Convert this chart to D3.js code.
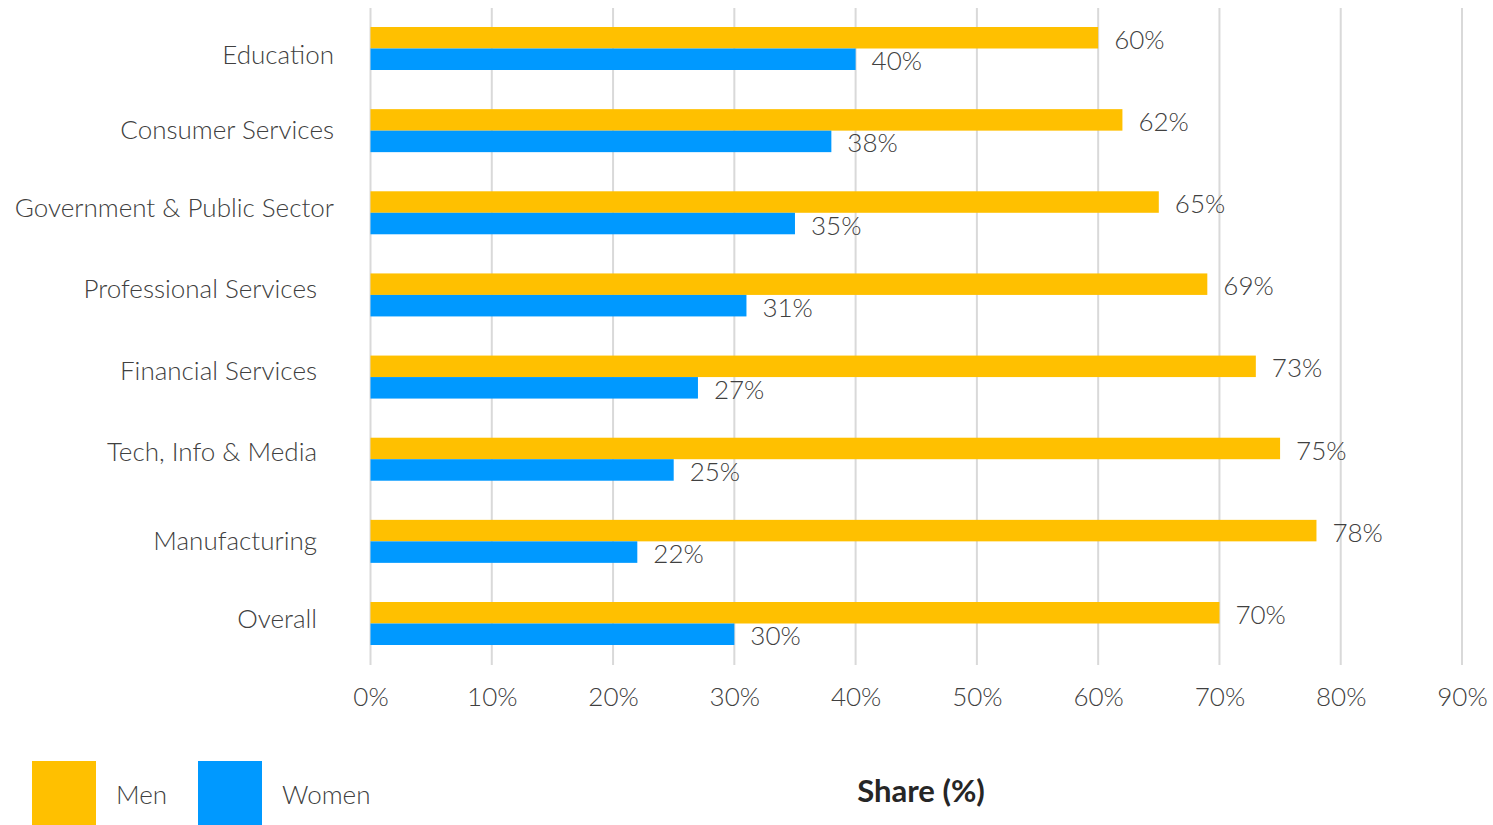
<!DOCTYPE html>
<html>
<head>
<meta charset="utf-8">
<script src="https://cdn.jsdelivr.net/npm/d3@7"></script>
<style>
  html, body { margin: 0; padding: 0; background: #fff; }
  svg { display: block; font-family: Lato, "Open Sans", sans-serif; font-weight: 300; }
</style>
</head>
<body>
<svg id="chart" width="1493" height="825"></svg>
<script>
// Industry categories, top to bottom
const categories = [
  "Education",
  "Consumer Services",
  "Government & Public Sector",
  "Professional Services",
  "Financial Services",
  "Tech, Info & Media",
  "Manufacturing",
  "Overall"
];
// Share of each group (%)
const menValues   = [60, 62, 65, 69, 73, 75, 78, 70];
const womenValues = [40, 38, 35, 31, 27, 25, 22, 30];
const seriesNames = ["Men", "Women"];
const xTicks = [0, 10, 20, 30, 40, 50, 60, 70, 80, 90];

// Layout
const colors = { Men: "#FFC000", Women: "#0099FF" };
const textColor = "#404040";
const gridColor = "#D9D9D9";
const fontSize = 26;
const labelRight = [334, 334, 334, 317, 317, 317, 317, 317];
const labelShift = [6, -1, -5, -6, -6, -7, 0, -5];

const svg = d3.select("#chart");

const x = d3.scaleLinear().domain([0, 90]).range([370.5, 1462]);
const y = d3.scaleBand().domain(categories).range([27, 645]).paddingInner(0.4765).paddingOuter(0);
const ySub = d3.scaleBand().domain(seriesNames).range([0, y.bandwidth()]);

const rows = categories.map((c, i) => ({ cat: c, i, Men: menValues[i], Women: womenValues[i] }));

// Vertical gridlines
svg.append("g").selectAll("line").data(xTicks).join("line")
  .attr("x1", d => x(d)).attr("x2", d => x(d))
  .attr("y1", 8).attr("y2", 665)
  .attr("stroke", gridColor).attr("stroke-width", 2);

// Bottom axis tick labels
const xAxis = d3.axisBottom(x).tickValues(xTicks).tickFormat(d => d + "%").tickSize(0).tickPadding(0);
const gx = svg.append("g").attr("transform", "translate(0,697)").call(xAxis);
gx.select(".domain").remove();
gx.attr("font-family", null).attr("font-size", null);
gx.selectAll("text")
  .attr("dy", "0.35em").attr("y", 0)
  .attr("font-size", fontSize).attr("fill", textColor);

// Bars
const groups = svg.append("g").selectAll("g").data(rows).join("g")
  .attr("transform", d => `translate(0,${y(d.cat)})`);

groups.selectAll("rect").data(d => seriesNames.map(s => ({ s, v: d[s] }))).join("rect")
  .attr("x", x(0))
  .attr("y", d => ySub(d.s))
  .attr("width", d => x(d.v) - x(0))
  .attr("height", ySub.bandwidth())
  .attr("fill", d => colors[d.s]);

// Value labels
groups.selectAll("text.val").data(d => seriesNames.map(s => ({ s, v: d[s] }))).join("text")
  .attr("class", "val")
  .attr("x", d => x(d.v) + 16)
  .attr("y", d => ySub(d.s) + ySub.bandwidth() / 2 + 2)
  .attr("dy", "0.35em")
  .attr("font-size", fontSize)
  .attr("fill", textColor)
  .text(d => d.v + "%");

// Category labels
svg.append("g").selectAll("text").data(rows).join("text")
  .attr("x", d => labelRight[d.i])
  .attr("y", d => y(d.cat) + y.bandwidth() / 2 + labelShift[d.i])
  .attr("dy", "0.35em")
  .attr("text-anchor", "end")
  .attr("font-size", fontSize)
  .attr("fill", textColor)
  .text(d => d.cat);

// Legend
const legend = svg.append("g");
const legendX = [32, 198];
seriesNames.forEach((s, i) => {
  legend.append("rect")
    .attr("x", legendX[i]).attr("y", 761)
    .attr("width", 64).attr("height", 64)
    .attr("fill", colors[s]);
  legend.append("text")
    .attr("x", legendX[i] + 84).attr("y", 795)
    .attr("dy", "0.35em")
    .attr("font-size", fontSize)
    .attr("fill", textColor)
    .text(s);
});

// Axis title
svg.append("text")
  .attr("x", 921).attr("y", 791)
  .attr("dy", "0.35em")
  .attr("text-anchor", "middle")
  .attr("font-size", 31)
  .attr("font-weight", "bold")
  .attr("fill", "#262626")
  .text("Share (%)");
</script>
</body>
</html>
